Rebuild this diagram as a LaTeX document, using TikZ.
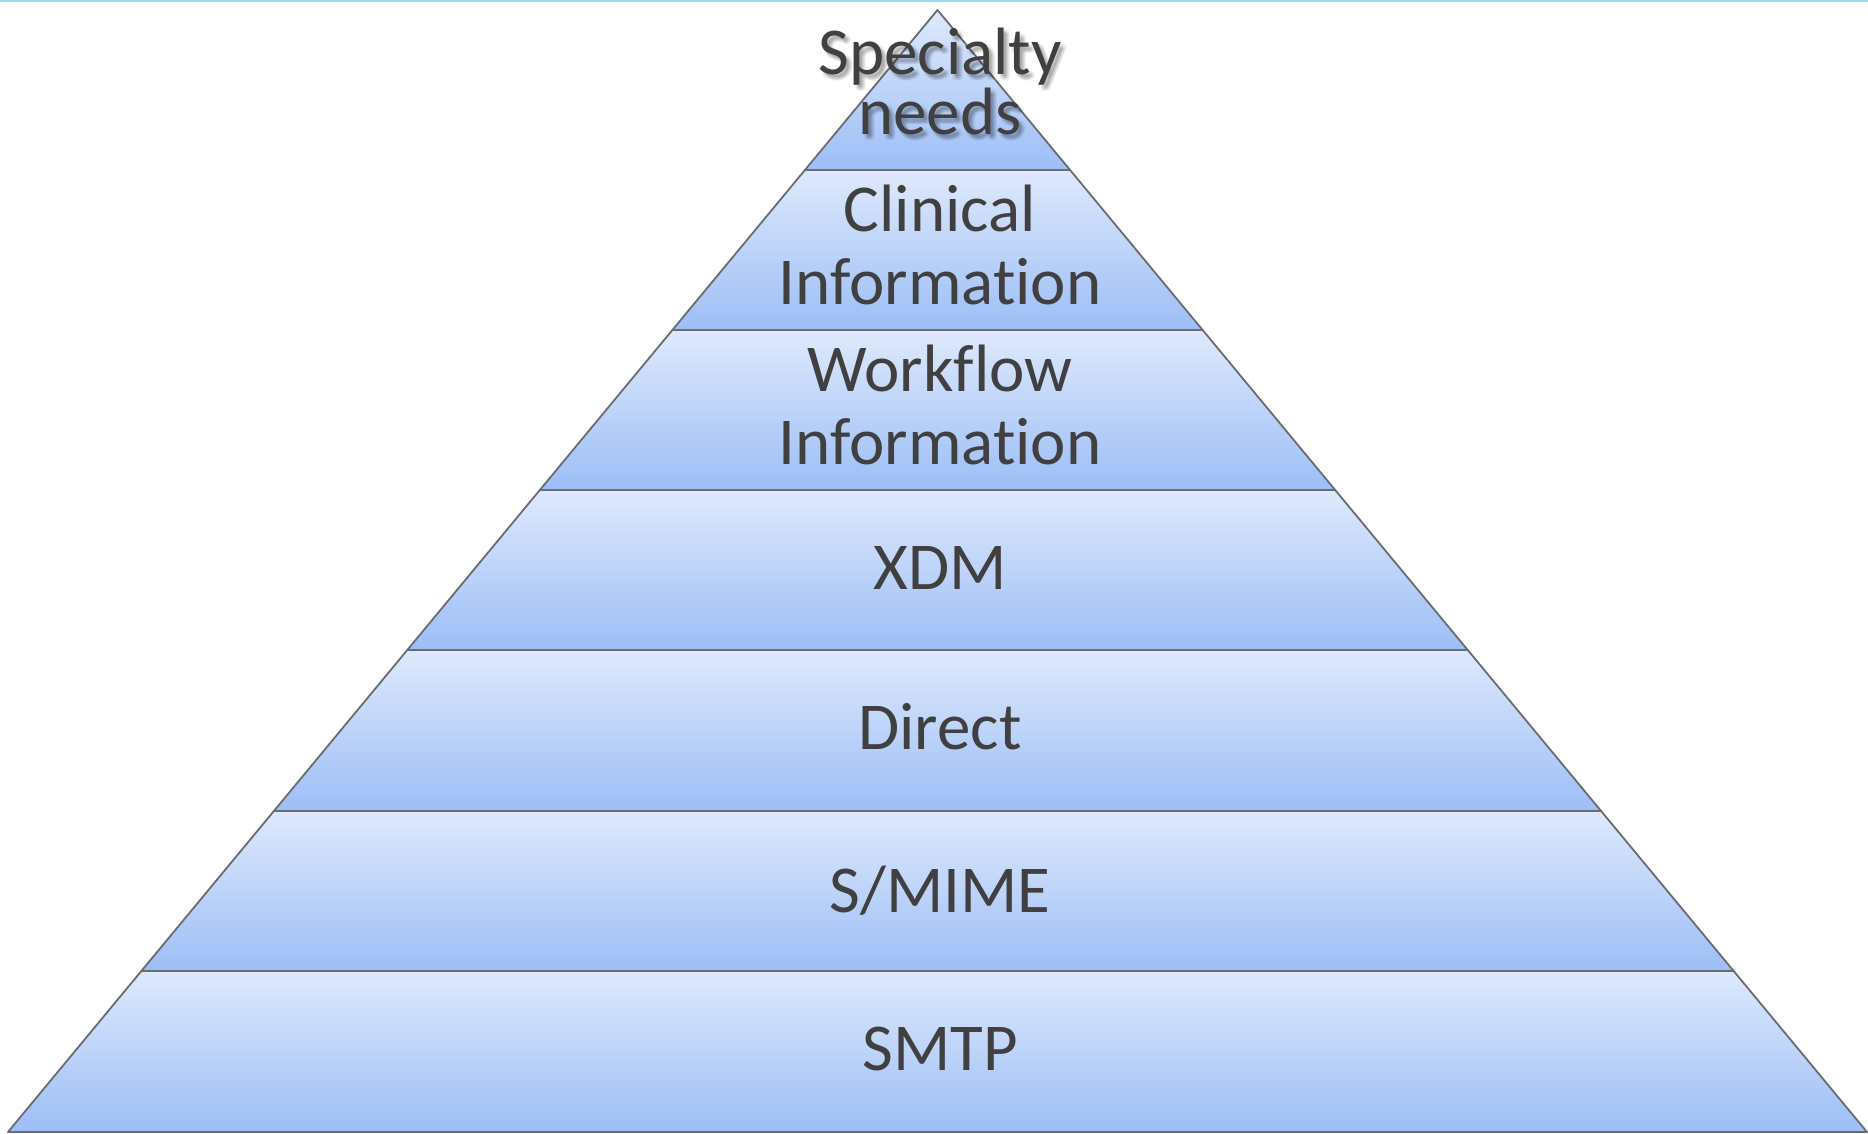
\documentclass[tikz,border=0pt]{standalone}
\usepackage{fontspec}
\setmainfont{Carlito}[Ligatures=NoCommon]
\usetikzlibrary{calc}
\definecolor{laytop}{RGB}{222,233,252}
\definecolor{laymid}{RGB}{194,213,250}
\definecolor{laybot}{RGB}{157,190,246}
\definecolor{edgegray}{RGB}{105,108,115}
\definecolor{txtgray}{RGB}{64,64,64}
\definecolor{topline}{RGB}{150,220,245}
\newcommand\lblfont{\fontsize{67}{73}\selectfont}
\newcommand\topfont{\fontsize{67}{60}\selectfont}
\begin{document}
\begin{tikzpicture}[x=1pt,y=1pt,
  layerbox/.style={draw=edgegray, line width=1.8pt, line join=round,
    top color=laytop, middle color=laymid, bottom color=laybot},
  lbl/.style={text=txtgray, font=\lblfont, align=center, inner sep=0pt, anchor=base},
  shadowlbl/.style={lbl, text=black, opacity=0.03}]
\useasboundingbox (0,0) rectangle (1868,1133);
\fill[white] (0,0) rectangle (1868,1133);
\fill[topline] (0,1131) rectangle (1868,1133);
\coordinate (A) at (937.5,1123);
\coordinate (BL) at (8,1);
\coordinate (BR) at (1867,1);
% layer boundaries as fractions from apex
\foreach \i/\f in {1/0.14260,2/0.28520,3/0.42781,4/0.57041,5/0.71390,6/0.85651,7/1}{
  \coordinate (L\i) at ($(A)!\f!(BL)$);
  \coordinate (R\i) at ($(A)!\f!(BR)$);
}
\path[layerbox] (A) -- (R1) -- (L1) -- cycle;
\foreach \i/\j in {1/2,2/3,3/4,4/5,5/6,6/7}{
  \path[layerbox] (L\i) -- (R\i) -- (R\j) -- (L\j) -- cycle;
}
% soft shadow of the top label
\foreach \dx/\dy in {2/2,4/2,6/2,2/4,4/4,6/4,2/6,4/6,6/6,3/3,5/5,3/5}{
  \node[shadowlbl, font=\topfont] at (940+\dx,998-\dy) {Specialty\\needs};
}
\node[lbl, font=\topfont] (t1) at (940,998) {Specialty\\needs};
\node[lbl] (t2) at (940,828) {Clinical\\Information};
\node[lbl] (t3) at (940,668) {Workflow\\Information};
\node[lbl] (t4) at (940,543) {XDM};
\node[lbl] (t5) at (940,383) {Direct};
\node[lbl] (t6) at (940,221) {S/MIME};
\node[lbl] (t7) at (940,63) {SMTP};
\end{tikzpicture}
\end{document}
